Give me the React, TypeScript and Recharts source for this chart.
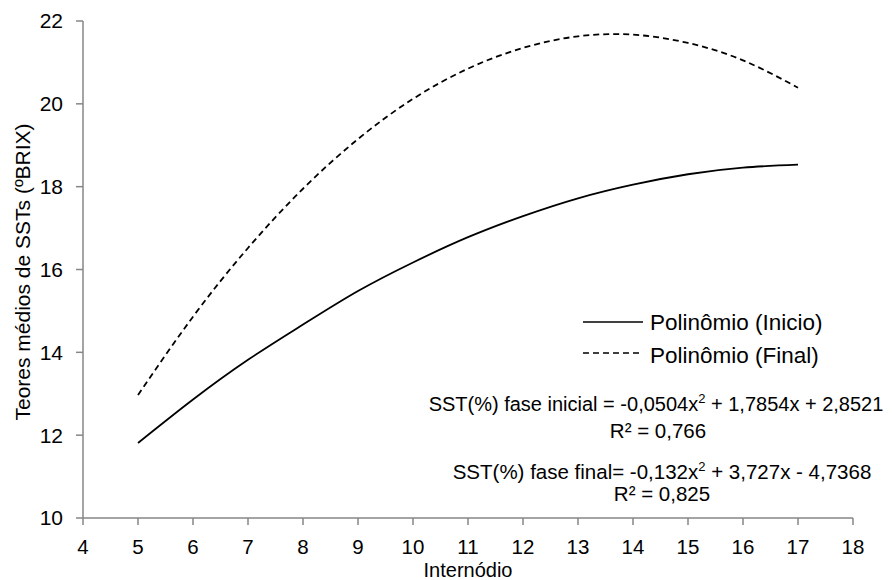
import React from 'react';
import { LineChart, Line, XAxis, YAxis, Legend } from 'recharts';

const internodio = [5, 6, 7, 8, 9, 10, 11, 12, 13, 14, 15, 16, 17];
const inicio = [11.81, 12.86, 13.82, 14.67, 15.48, 16.17, 16.78, 17.29, 17.72, 18.05, 18.3, 18.46, 18.53];
const final = [12.97, 14.86, 16.52, 17.95, 19.15, 20.12, 20.85, 21.35, 21.63, 21.67, 21.47, 21.05, 20.39];
const xTicks = [4, 5, 6, 7, 8, 9, 10, 11, 12, 13, 14, 15, 16, 17, 18];
const yTicks = [10, 12, 14, 16, 18, 20, 22];
const seriesNames = ['Polinômio (Inicio)', 'Polinômio (Final)'];

const data = internodio.map((x, i) => ({ x, inicio: inicio[i], final: final[i] }));

const FONT = '"Liberation Sans", Arial, sans-serif';
const AXIS = '#868686';

const LegendBox = () => (
  <svg width={472} height={215} style={{ display: 'block', overflow: 'visible' }} fontFamily={FONT} fill="#000">
    <line x1={163} y1={22} x2={223} y2={22} stroke="#000" strokeWidth={1.6} />
    <line x1={163} y1={53} x2={223} y2={53} stroke="#000" strokeWidth={1.6} strokeDasharray="6 4" />
    <text x={230} y={30} fontSize={22.5}>{seriesNames[0]}</text>
    <text x={230} y={63} fontSize={22.5}>{seriesNames[1]}</text>
    <text x={236} y={111} fontSize={20} textAnchor="middle">
      <tspan>SST(%)  fase inicial = -0,0504x</tspan>
      <tspan dy={-8} fontSize={13}>2</tspan>
      <tspan dy={8}> + 1,7854x +  2,8521</tspan>
    </text>
    <text x={238} y={138} fontSize={20.5} textAnchor="middle">R² = 0,766</text>
    <text x={242} y={179} fontSize={20.5} textAnchor="middle">
      <tspan>SST(%) fase final= -0,132x</tspan>
      <tspan dy={-8} fontSize={13}>2</tspan>
      <tspan dy={8}> + 3,727x - 4,7368</tspan>
    </text>
    <text x={242} y={201} fontSize={20.5} textAnchor="middle">R² = 0,825</text>
  </svg>
);

export default function App() {
  return (
    <div style={{ position: 'absolute', left: 0, top: 0, width: 892, height: 580, background: '#fff' }}>
      <LineChart width={892} height={580} data={data} margin={{ top: 21, right: 39, bottom: 0, left: 0 }}>
        <XAxis
          dataKey="x"
          type="number"
          domain={[4, 18]}
          ticks={xTicks}
          interval={0}
          height={62}
          tickSize={7}
          tickMargin={14}
          stroke={AXIS}
          tick={{ fill: '#000', fontSize: 20.5, fontFamily: FONT }}
          axisLine={{ stroke: AXIS, strokeWidth: 1.5 }}
          tickLine={{ stroke: AXIS, strokeWidth: 1.5 }}
          label={{
            content: () => (
              <text x={468} y={577} textAnchor="middle" fontSize={20} fontFamily={FONT} fill="#000">
                Internódio
              </text>
            ),
          }}
        />
        <YAxis
          type="number"
          domain={[10, 22]}
          ticks={yTicks}
          interval={0}
          width={83}
          tickSize={7}
          tickMargin={13}
          stroke={AXIS}
          tick={{ fill: '#000', fontSize: 21, fontFamily: FONT }}
          axisLine={{ stroke: AXIS, strokeWidth: 1.5 }}
          tickLine={{ stroke: AXIS, strokeWidth: 1.5 }}
          label={{
            content: () => (
              <text
                x={30}
                y={272}
                transform="rotate(-90, 30, 272)"
                textAnchor="middle"
                fontSize={21}
                fontFamily={FONT}
                fill="#000"
              >
                Teores médios de SSTs  (ºBRIX)
              </text>
            ),
          }}
        />
        <Legend
          layout="horizontal"
          verticalAlign="middle"
          align="center"
          wrapperStyle={{ position: 'absolute', left: 420, top: 300, width: 472, height: 215 }}
          content={() => <LegendBox />}
        />
        <Line
          type="natural"
          dataKey="inicio"
          name={seriesNames[0]}
          stroke="#000"
          strokeWidth={1.8}
          dot={false}
          activeDot={false}
          isAnimationActive={false}
        />
        <Line
          type="natural"
          dataKey="final"
          name={seriesNames[1]}
          stroke="#000"
          strokeWidth={1.8}
          strokeDasharray="6 4"
          dot={false}
          activeDot={false}
          isAnimationActive={false}
        />
      </LineChart>
    </div>
  );
}
